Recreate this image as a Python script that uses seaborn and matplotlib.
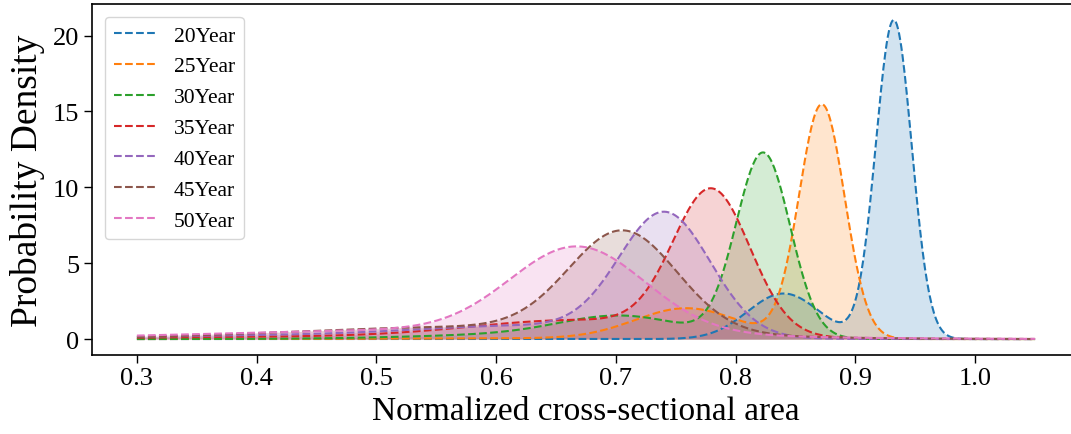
import numpy as np
import pandas as pd
import matplotlib
matplotlib.use("Agg")
import matplotlib.pyplot as plt
import seaborn as sns

# ---- data (density components per series) ----
labels = ["20Year", "25Year", "30Year", "35Year", "40Year", "45Year", "50Year"]
peak_centers = [0.932, 0.872, 0.823, 0.780, 0.741, 0.706, 0.668]
peak_heights = [21.0, 15.4, 12.14, 9.35, 8.0, 6.6, 5.62]
peak_widths = [0.015, 0.019, 0.0225, 0.032, 0.038, 0.045, 0.056]
bump_centers = [0.840, 0.759, 0.705, 0.670, 0.630, 0.580, 0.550]
bump_heights = [3.0, 2.0, 1.25, 1.2, 0.75, 0.8, 0.6]
bump_widths = [0.030, 0.043, 0.050, 0.090, 0.090, 0.150, 0.180]
tail_centers = [0.70, 0.65, 0.65, 0.45, 0.45, 0.45, 0.45]
tail_heights = [0.0, 0.05, 0.35, 0.15, 0.25, 0.0, 0.0]
tail_widths = [0.10, 0.12, 0.10, 0.15, 0.15, 0.15, 0.15]
x_start, x_end = 0.3, 1.05

colors = sns.color_palette("tab10", len(labels))

fig = plt.figure(figsize=(10.71, 4.35), dpi=100)
ax = fig.add_axes([92 / 1071, 79 / 435, (1080 - 92) / 1071, (356 - 5) / 435])

xs = np.linspace(x_start, x_end, 800)
rows = []
for i, lab in enumerate(labels):
    y = np.zeros_like(xs)
    for c, h, s in ((peak_centers[i], peak_heights[i], peak_widths[i]),
                    (bump_centers[i], bump_heights[i], bump_widths[i]),
                    (tail_centers[i], tail_heights[i], tail_widths[i])):
        y += h * np.exp(-0.5 * ((xs - c) / s) ** 2)
    rows.append(pd.DataFrame({"x": xs, "density": y, "series": lab}))
df = pd.concat(rows, ignore_index=True)

for i, lab in enumerate(labels):
    sub = df[df["series"] == lab]
    sns.lineplot(data=sub, x="x", y="density", ax=ax, color=colors[i],
                 linestyle="--", linewidth=1.5, label=lab)
    ax.fill_between(sub["x"], sub["density"], color=colors[i], alpha=0.2, linewidth=0)

serif = ["Liberation Serif", "DejaVu Serif"]
ax.set_xlabel("Normalized cross-sectional area", fontsize=24, family=serif, labelpad=4)
ax.set_ylabel("Probability Density", fontsize=27, family=serif, labelpad=6)
ax.set_xticks([0.3, 0.4, 0.5, 0.6, 0.7, 0.8, 0.9, 1.0])
ax.set_yticks([0, 5, 10, 15, 20])
ax.tick_params(axis="both", labelsize=19, length=5.5, width=1.0, direction="out")
for t in ax.get_xticklabels() + ax.get_yticklabels():
    t.set_family(serif)
for sp in ax.spines.values():
    sp.set_linewidth(1.2)

leg = ax.legend(loc="upper left", prop={"family": serif, "size": 15.5},
                frameon=True, handlelength=2.0, borderaxespad=0.6)
leg.get_frame().set_edgecolor("#cccccc")

fig.savefig("out.png", dpi=100)
